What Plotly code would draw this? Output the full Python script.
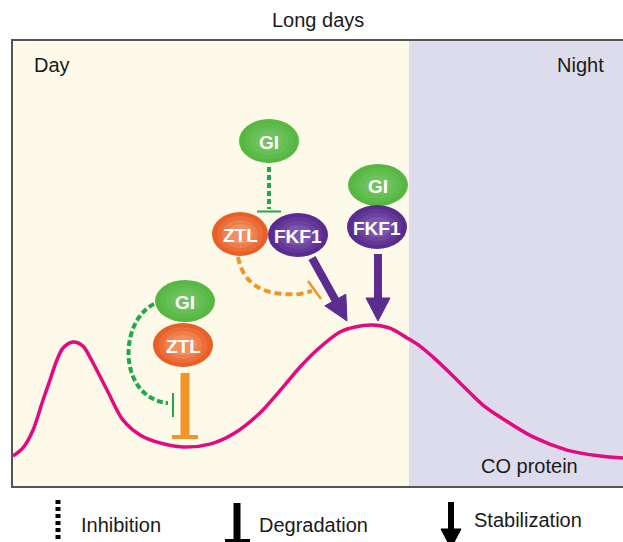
import plotly.graph_objects as go

# ---------------- data ----------------
# CO protein level over a long day (hours from dawn, relative level; main peak = 1)
co_time = [0.04, 0.44, 0.85, 1.25, 1.53, 1.81, 2.06, 2.46, 2.86, 3.14, 3.83, 4.47, 5.16,
           5.96, 6.89, 7.98, 8.91, 9.99, 10.92, 11.61, 12.29, 13.22, 13.82, 14.51, 15.23,
           15.92, 16.44, 16.97, 17.65, 18.34, 18.98, 19.67, 21.0, 22.37, 23.7, 24.63]
co_level = [0.191, 0.241, 0.352, 0.537, 0.66, 0.784, 0.858, 0.895, 0.87, 0.802, 0.599,
            0.414, 0.321, 0.272, 0.247, 0.265, 0.327, 0.457, 0.617, 0.741, 0.846, 0.957,
            0.988, 1.0, 0.981, 0.92, 0.87, 0.802, 0.704, 0.599, 0.506, 0.432, 0.309,
            0.228, 0.191, 0.179]
period_names = ["Day", "Night"]
period_bounds = [0, 16, 30]
frame_top = 2.759
title_text = "Long days"
curve_label = "CO protein"
legend_labels = ["Inhibition", "Degradation", "Stabilization"]

# ---------------- style ----------------
W, H = 623, 542          # window size
OFF = 0                  # page body margin is removed by post_script
FW, FH = W, H
FONT = "Liberation Sans, Arial, Helvetica, sans-serif"
DAY = "#FDFAE9"
NIGHT = "#DDDCEC"
MAGENTA = "#E5097F"
PURPLE = "#5C2D91"
DGREEN = "#22A84B"
LORANGE = "#F39427"
PX_PER_H = 24.8125
PX_PER_L = 162.0


def P(x, y):
    return (x - OFF) / FW, 1 - (y - OFF) / FH


def path(points, close=False):
    s = ""
    for i, (x, y) in enumerate(points):
        px, py = P(x, y)
        s += ("M" if i == 0 else "L") + f"{px:.5f},{py:.5f} "
    return s + ("Z" if close else "")


def cpath(start, c1, c2, end, tail=None):
    s = "M%.5f,%.5f " % P(*start)
    s += "C%.5f,%.5f %.5f,%.5f %.5f,%.5f" % (*P(*c1), *P(*c2), *P(*end))
    if tail:
        s += " L%.5f,%.5f" % P(*tail)
    return s


shapes = []
shapes.append(dict(type="rect", xref="x", yref="y", x0=period_bounds[0], x1=period_bounds[1],
                   y0=0, y1=frame_top, fillcolor=DAY, line_width=0, layer="below"))
shapes.append(dict(type="rect", xref="x", yref="y", x0=period_bounds[1], x1=period_bounds[2],
                   y0=0, y1=frame_top, fillcolor=NIGHT, line_width=0, layer="below"))
shapes.append(dict(type="rect", xref="x", yref="y", x0=period_bounds[0], x1=period_bounds[2],
                   y0=0, y1=frame_top, fillcolor="rgba(0,0,0,0)",
                   line=dict(color="#555555", width=2), layer="above"))


def line(x0, y0, x1, y1, color, width, dash=None):
    a, b = P(x0, y0)
    c, d = P(x1, y1)
    ln = dict(color=color, width=width)
    if dash:
        ln["dash"] = dash
    shapes.append(dict(type="line", xref="paper", yref="paper", x0=a, y0=b, x1=c, y1=d, line=ln))


def curve(start, c1, c2, end, color, width, dash, tail=None):
    shapes.append(dict(type="path", xref="paper", yref="paper", path=cpath(start, c1, c2, end, tail),
                       line=dict(color=color, width=width, dash=dash)))


def arrow(x0, y0, x1, y1, color, width, head_len, head_half):
    dx, dy = x1 - x0, y1 - y0
    n = (dx * dx + dy * dy) ** 0.5
    ux, uy = dx / n, dy / n
    bx, by = x1 - head_len * ux, y1 - head_len * uy
    line(x0, y0, bx + 2 * ux, by + 2 * uy, color, width)
    px_, py_ = -uy, ux
    pts = [(bx + head_half * px_, by + head_half * py_), (x1, y1), (bx - head_half * px_, by - head_half * py_)]
    shapes.append(dict(type="path", xref="paper", yref="paper", path=path(pts, True),
                       fillcolor=color, line=dict(color=color, width=1)))


def ellipse(cx, cy, rx, ry, colors):
    k = len(colors)
    for i, c in enumerate(colors):
        s = 1 - 0.72 * i / k
        a, b = P(cx - rx * s, cy - ry * s)
        c2, d = P(cx + rx * s, cy + ry * s)
        shapes.append(dict(type="circle", xref="paper", yref="paper", x0=a, x1=c2, y0=d, y1=b,
                           fillcolor=c, line_width=0))


annotations = []


def text(x, y, s, size=20, color="#1a1a1a", anchor="center", bold=False):
    a, b = P(x, y)
    annotations.append(dict(xref="paper", yref="paper", x=a, y=b, text=("<b>%s</b>" % s) if bold else s,
                            showarrow=False, xanchor=anchor, yanchor="middle",
                            font=dict(family=FONT, size=size, color=color)))


GI_C = ["#57B743", "#5EBB4B", "#66BF55", "#6EC35E"]
ZTL_C = ["#E85F28", "#EB6E38", "#EE7E4B", "#F18F60"]
FKF_C = ["#5B2C8F", "#633697", "#6E44A1", "#7C55AD"]

# --- connectors (drawn before proteins) ---
line(269, 167, 269, 209, DGREEN, 4, "5px,3px")
line(257, 211.5, 281, 211.5, DGREEN, 2)
curve((238, 257), (244, 288), (268, 296), (300, 294), LORANGE, 4, "7px,4px", tail=(312, 291))
line(308, 281, 321, 299, LORANGE, 2.5)
curve((154, 304), (118, 322), (118, 398), (168, 403), DGREEN, 4, "6px,3px")
line(173, 393, 173, 417, DGREEN, 2)
line(185, 373, 185, 436, LORANGE, 9)
line(172, 437, 198, 437, LORANGE, 4)
arrow(312, 258, 347, 321, PURPLE, 8, 24, 12)
arrow(378, 254, 378, 321, PURPLE, 8, 23, 12)

# --- proteins ---
ellipse(269, 141, 30, 22, GI_C)
ellipse(240, 234, 28, 22, ZTL_C)
ellipse(298, 235, 30, 22, FKF_C)
ellipse(378, 185, 30, 21, GI_C)
ellipse(377, 227, 30, 22, FKF_C)
ellipse(185, 301, 30, 21, GI_C)
ellipse(183, 345, 30, 22, ZTL_C)

for (x, y, s) in [(269, 142, "GI"), (240, 235, "ZTL"), (298, 236, "FKF1"), (378, 186, "GI"),
                  (377, 228, "FKF1"), (185, 302, "GI"), (183, 346, "ZTL")]:
    text(x, y, s, size=19, color="white", bold=True)

# --- legend symbols ---
line(58, 500, 58, 545, "black", 5, "4px,3px")
line(237, 503, 237, 541, "black", 7)
line(225, 541, 250, 541, "black", 4)
arrow(451, 502, 451, 548, "black", 6, 19, 10)

# --- texts ---
text(318, 20, title_text)
text(32, 65, period_names[0], anchor="left")
text(606, 65, period_names[1], anchor="right")
text(580, 466, curve_label, anchor="right")
text(79, 525, legend_labels[0], anchor="left")
text(257, 525, legend_labels[1], anchor="left")
text(472, 520, legend_labels[2], anchor="left")

fig = go.Figure()
fig.add_trace(go.Scatter(x=co_time, y=co_level, mode="lines",
                         line=dict(color=MAGENTA, width=3.5, shape="spline", smoothing=0.9),
                         hoverinfo="skip", showlegend=False))

fig.update_layout(
    width=FW, height=FH, autosize=False,
    margin=dict(l=0, r=0, t=0, b=0),
    paper_bgcolor="white", plot_bgcolor="white",
    xaxis=dict(range=[(OFF - 12) / PX_PER_H, (OFF + FW - 12) / PX_PER_H], visible=False, fixedrange=True),
    yaxis=dict(range=[(487 - OFF - FH) / PX_PER_L, (487 - OFF) / PX_PER_L], visible=False, fixedrange=True),
    shapes=shapes, annotations=annotations, showlegend=False,
)

fig.write_html("out.html", config={"displayModeBar": False, "staticPlot": True},
               post_script="document.body.style.margin='0';document.body.style.overflow='hidden';")
